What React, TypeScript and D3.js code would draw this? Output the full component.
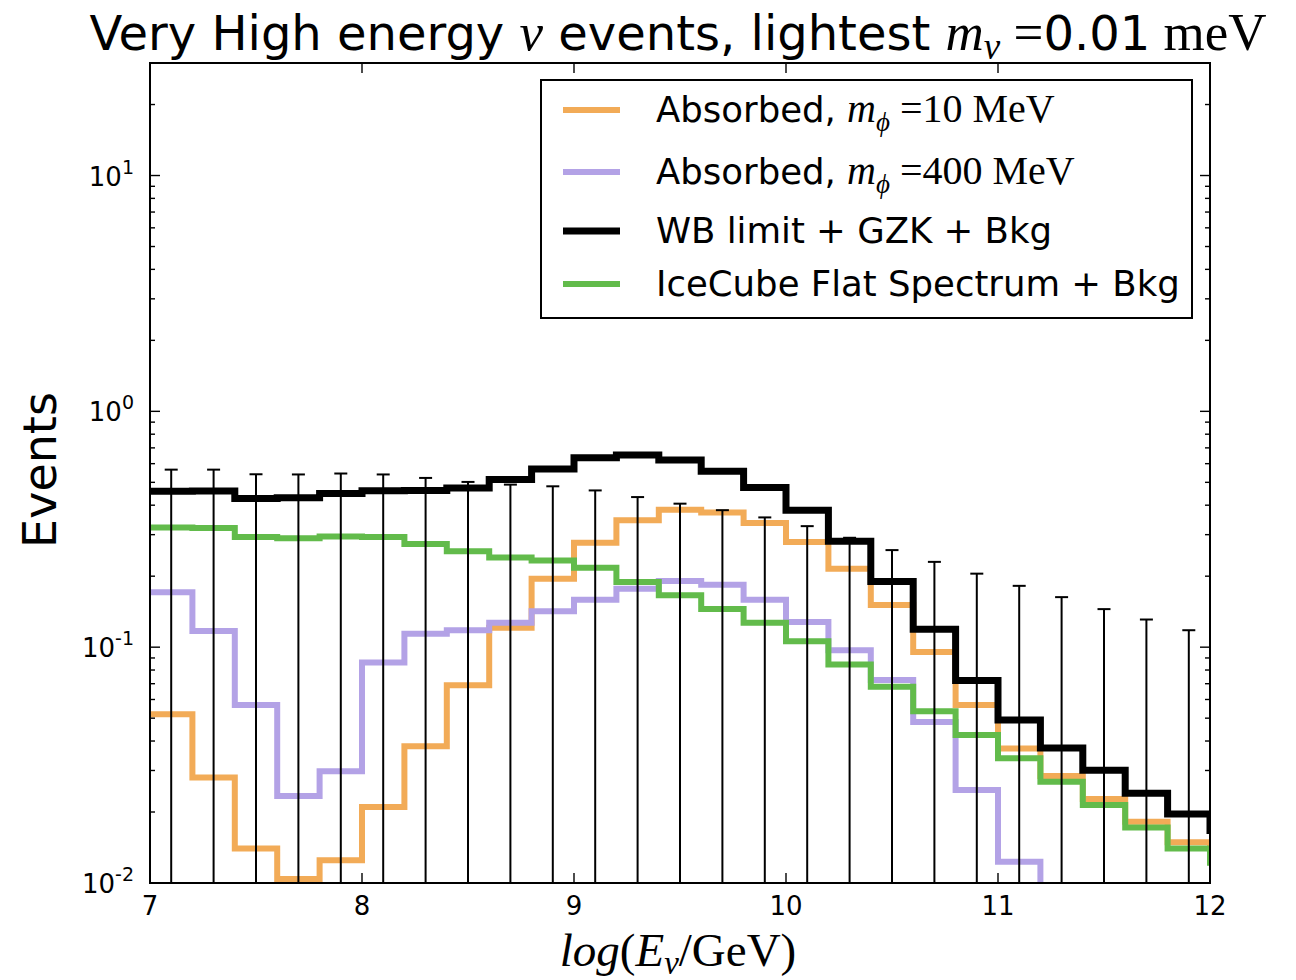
import React from "react";
import * as d3 from "d3";

// Bin left edges (log10 E / GeV); last extra bin continues beyond the axis and is clipped
const binEdges = [7.0, 7.2, 7.4, 7.6, 7.8, 8.0, 8.2, 8.4, 8.6, 8.8, 9.0, 9.2, 9.4, 9.6, 9.8, 10.0, 10.2, 10.4, 10.6, 10.8, 11.0, 11.2, 11.4, 11.6, 11.8, 12.0, 12.2];
const binCenters = [7.1, 7.3, 7.5, 7.7, 7.9, 8.1, 8.3, 8.5, 8.7, 8.9, 9.1, 9.3, 9.5, 9.7, 9.9, 10.1, 10.3, 10.5, 10.7, 10.9, 11.1, 11.3, 11.5, 11.7, 11.9];

const absorbed10 = [0.052, 0.028, 0.014, 0.0104, 0.0125, 0.021, 0.038, 0.069, 0.121, 0.195, 0.277, 0.345, 0.383, 0.372, 0.336, 0.279, 0.215, 0.151, 0.0955, 0.0568, 0.0372, 0.0284, 0.0227, 0.0182, 0.0149, 0.0135];
const absorbed400 = [0.171, 0.117, 0.0568, 0.0234, 0.0298, 0.0861, 0.114, 0.118, 0.127, 0.142, 0.159, 0.177, 0.191, 0.184, 0.159, 0.128, 0.097, 0.0725, 0.0482, 0.0248, 0.0123, 0.004, 0.002, 0.001, 0.0005, 0.0003];
const wbLimit = [0.458, 0.46, 0.427, 0.43, 0.448, 0.461, 0.462, 0.473, 0.514, 0.57, 0.636, 0.653, 0.622, 0.557, 0.475, 0.381, 0.281, 0.19, 0.119, 0.0723, 0.0491, 0.0374, 0.0301, 0.024, 0.0196, 0.0167];
const iceCube = [0.322, 0.32, 0.293, 0.29, 0.295, 0.293, 0.274, 0.255, 0.24, 0.233, 0.217, 0.189, 0.166, 0.145, 0.127, 0.106, 0.0845, 0.068, 0.0535, 0.0424, 0.0338, 0.0269, 0.0214, 0.0172, 0.014, 0.0122];
const errUpper = [0.566, 0.566, 0.541, 0.54, 0.545, 0.54, 0.522, 0.502, 0.489, 0.481, 0.462, 0.433, 0.406, 0.381, 0.355, 0.326, 0.291, 0.258, 0.23, 0.205, 0.182, 0.163, 0.145, 0.131, 0.118];

const xTicks = [7, 8, 9, 10, 11, 12];
const yMajor = [0.01, 0.1, 1, 10];
const yExp = ["-2", "-1", "0", "1"];

const W = 1296, H = 980;
const M = { left: 150, top: 63, right: 1210, bottom: 883 };

const COLORS = { orange: "#f2ab57", purple: "#b3a2e6", black: "#000000", green: "#62bb4b" };
const SANS = "'DejaVu Sans', sans-serif";
const SERIF = "'Liberation Serif', 'DejaVu Serif', serif";

export default function App() {
  const x = d3.scaleLinear().domain([7, 12]).range([M.left, M.right]);
  const y = d3.scaleLog().domain([0.01, 30]).range([M.bottom, M.top]);

  const stepLine = (vals: number[]) => {
    const pts: [number, number][] = vals.map((v, i) => [binEdges[i], v]);
    pts.push([binEdges[vals.length], vals[vals.length - 1]]);
    return d3
      .line<[number, number]>()
      .x((d) => x(d[0]))
      .y((d) => y(d[1]))
      .curve(d3.curveStepAfter)(pts) as string;
  };

  const minorTicks: number[] = [];
  for (const dec of [0.01, 0.1, 1, 10]) {
    for (let k = 2; k <= 9; k++) {
      const v = dec * k;
      if (v <= 30.0001) minorTicks.push(v);
    }
  }

  const series = [
    { vals: absorbed10, color: COLORS.orange, w: 6 },
    { vals: absorbed400, color: COLORS.purple, w: 6 },
    { vals: wbLimit, color: COLORS.black, w: 7 },
    { vals: iceCube, color: COLORS.green, w: 6 },
  ];

  const legendRows = [
    { color: COLORS.orange, w: 6, y: 110, label: "Absorbed, ", math: "10" },
    { color: COLORS.purple, w: 6, y: 172, label: "Absorbed, ", math: "400" },
    { color: COLORS.black, w: 7, y: 231, label: "WB limit + GZK + Bkg" },
    { color: COLORS.green, w: 6, y: 284, label: "IceCube Flat Spectrum + Bkg" },
  ];

  return (
    <svg width={W} height={H} style={{ position: "absolute", left: 0, top: 0, background: "#fff" }}>
      <defs>
        <clipPath id="plotClip">
          <rect x={M.left} y={M.top} width={M.right - M.left} height={M.bottom - M.top} />
        </clipPath>
      </defs>
      <rect x={0} y={0} width={W} height={H} fill="#fff" />

      {/* Title */}
      <text x={678} y={50} textAnchor="middle" fontSize={48} fontFamily={SANS} fill="#000">
        <tspan>Very High energy </tspan>
        <tspan fontFamily={SERIF} fontStyle="italic" fontSize={53}>ν</tspan>
        <tspan> events, lightest </tspan>
        <tspan fontFamily={SERIF} fontStyle="italic" fontSize={53}>m</tspan>
        <tspan fontFamily={SERIF} fontStyle="italic" fontSize={37} dy={9}>ν</tspan>
        <tspan fontFamily={SERIF} fontSize={53} dy={-9}> =</tspan>
        <tspan>0.01</tspan>
        <tspan fontFamily={SERIF} fontSize={53}> meV</tspan>
      </text>

      {/* Data */}
      <g clipPath="url(#plotClip)">
        {series.map((s, i) => (
          <path key={i} d={stepLine(s.vals)} fill="none" stroke={s.color} strokeWidth={s.w} strokeLinejoin="miter" strokeLinecap="butt" />
        ))}
        {binCenters.map((c, i) => (
          <g key={"e" + i} stroke="#000" strokeWidth={2}>
            <line x1={x(c)} x2={x(c)} y1={y(errUpper[i])} y2={M.bottom} />
            <line x1={x(c) - 6.5} x2={x(c) + 6.5} y1={y(errUpper[i])} y2={y(errUpper[i])} />
          </g>
        ))}
      </g>

      {/* Ticks */}
      <g stroke="#000" strokeWidth={1.4}>
        {xTicks.map((t) => (
          <g key={"xt" + t}>
            <line x1={x(t)} x2={x(t)} y1={M.bottom} y2={M.bottom - 10} />
            <line x1={x(t)} x2={x(t)} y1={M.top} y2={M.top + 10} />
          </g>
        ))}
        {yMajor.map((t) => (
          <g key={"yt" + t}>
            <line x1={M.left} x2={M.left + 10} y1={y(t)} y2={y(t)} />
            <line x1={M.right} x2={M.right - 10} y1={y(t)} y2={y(t)} />
          </g>
        ))}
        {minorTicks.map((t) => (
          <g key={"ym" + t}>
            <line x1={M.left} x2={M.left + 5} y1={y(t)} y2={y(t)} />
            <line x1={M.right} x2={M.right - 5} y1={y(t)} y2={y(t)} />
          </g>
        ))}
      </g>

      {/* Frame */}
      <rect x={M.left} y={M.top} width={M.right - M.left} height={M.bottom - M.top} fill="none" stroke="#000" strokeWidth={2} />

      {/* Tick labels */}
      {xTicks.map((t) => (
        <text key={"xl" + t} x={x(t)} y={915} textAnchor="middle" fontSize={26} fontFamily={SANS} fill="#000">
          {t}
        </text>
      ))}
      {yMajor.map((t, i) => (
        <text key={"yl" + t} x={134} y={y(t) + 10} textAnchor="end" fontSize={26} fontFamily={SANS} fill="#000">
          <tspan>10</tspan>
          <tspan fontSize={19} dy={-12}>{yExp[i]}</tspan>
        </text>
      ))}

      {/* Axis labels */}
      <text x={678} y={966} textAnchor="middle" fontSize={47} fontFamily={SERIF} fill="#000">
        <tspan fontStyle="italic">log</tspan>
        <tspan>(</tspan>
        <tspan fontStyle="italic">E</tspan>
        <tspan fontStyle="italic" fontSize={33} dy={8}>ν</tspan>
        <tspan dy={-8}>/GeV)</tspan>
      </text>
      <text transform="translate(56,470) rotate(-90)" textAnchor="middle" fontSize={46} fontFamily={SANS} fill="#000">
        Events
      </text>

      {/* Legend */}
      <rect x={541} y={80} width={651} height={238} fill="#fff" stroke="#000" strokeWidth={2} />
      {legendRows.map((r, i) => (
        <g key={"lg" + i}>
          <line x1={563} x2={620} y1={r.y} y2={r.y} stroke={r.color} strokeWidth={r.w} />
          <text x={656} y={r.y + 12} fontSize={35.5} fontFamily={SANS} fill="#000">
            <tspan>{r.label}</tspan>
            {r.math && (
              <>
                <tspan fontFamily={SERIF} fontStyle="italic" fontSize={40}>m</tspan>
                <tspan fontFamily={SERIF} fontStyle="italic" fontSize={27} dy={9}>ϕ</tspan>
                <tspan fontFamily={SERIF} fontSize={40} dy={-9}> ={r.math} MeV</tspan>
              </>
            )}
          </text>
        </g>
      ))}
    </svg>
  );
}
